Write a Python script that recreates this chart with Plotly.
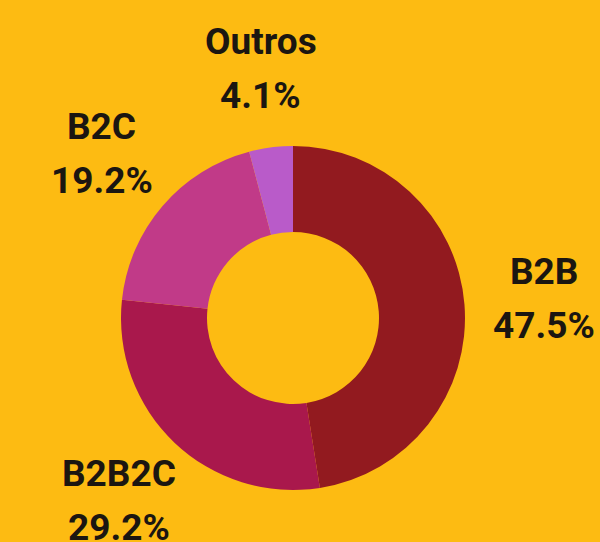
import math
import plotly.graph_objects as go

# market share by business model
labels = ["B2B", "B2B2C", "B2C", "Outros"]
values = [47.5, 29.2, 19.2, 4.1]
colors = ["#921a1f", "#a9184c", "#c13a88", "#b95bc9"]

W, H = 600, 542
cx, cy, R = 293, 318, 172   # pie centre and outer radius, px
label_r = 1.465 * R
line_gap = 27

fig = go.Figure(go.Pie(
    labels=labels, values=values,
    hole=0.5, sort=False, direction="clockwise", rotation=0,
    marker=dict(colors=colors, line=dict(width=0)),
    textinfo="none", hoverinfo="label+percent",
    domain=dict(x=[(cx - R) / W, (cx + R) / W],
                y=[1 - (cy + R) / H, 1 - (cy - R) / H]),
))

# labels placed along the middle angle of each slice
total = sum(values)
cum = 0
font = dict(family="Roboto", size=37, color="#1b1611", weight="bold")
for lab, v in zip(labels, values):
    theta = 2 * math.pi * (cum + v / 2) / total
    cum += v
    px = cx + label_r * math.sin(theta)
    py = cy - label_r * math.cos(theta)
    for txt, dy in ((lab, -line_gap), (f"{v / total * 100:.1f}%", line_gap)):
        fig.add_annotation(x=px / W, y=1 - (py + dy) / H, xref="paper", yref="paper",
                           text=txt, showarrow=False, font=font,
                           xanchor="center", yanchor="middle")

fig.update_layout(
    width=W, height=H,
    margin=dict(l=0, r=0, t=0, b=0),
    paper_bgcolor="#fdbb12", plot_bgcolor="#fdbb12",
    showlegend=False,
)

fig.write_html("out.html", config={"displayModeBar": False},
               post_script="document.body.style.margin='0';")
